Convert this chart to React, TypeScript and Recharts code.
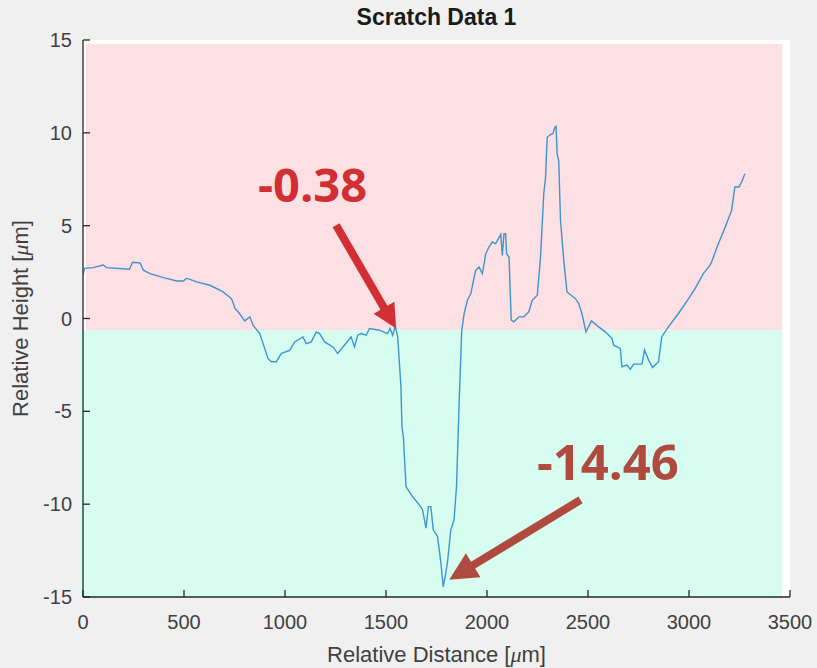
import React from "react"
import { LineChart, Line, XAxis, YAxis, CartesianGrid, ReferenceArea, ReferenceLine, ReferenceDot, Label } from "recharts"

// profile (distance in µm, height in µm)
const distance = [
  0, 8, 50, 100, 118, 230, 245, 283, 299, 332, 398, 464, 497, 513, 563, 628, 694, 735, 745, 752,
  768, 801, 826, 842, 875, 891, 916, 933, 957, 982, 1023, 1048, 1089, 1105, 1130, 1155, 1171, 1196, 1237, 1261,
  1294, 1327, 1344, 1360, 1377, 1402, 1418, 1467, 1508, 1520, 1533, 1546, 1558, 1574, 1579, 1586, 1599, 1631, 1665, 1681,
  1698, 1710, 1722, 1734, 1755, 1772, 1783, 1793, 1804, 1821, 1837, 1849, 1862, 1875, 1887, 1903, 1920, 1944, 1961, 1977,
  1994, 2010, 2026, 2043, 2068, 2076, 2084, 2092, 2097, 2109, 2120, 2133, 2158, 2183, 2207, 2224, 2249, 2265, 2281, 2290,
  2298, 2314, 2326, 2336, 2342, 2347, 2355, 2364, 2380, 2396, 2438, 2454, 2470, 2490, 2517, 2553, 2586, 2619, 2627, 2660,
  2668, 2693, 2709, 2726, 2767, 2780, 2800, 2820, 2849, 2865, 2898, 2948, 2998, 3030, 3071, 3104, 3112, 3145, 3166, 3186,
  3211, 3227, 3247, 3260, 3277,
]
const height = [
  2.35, 2.7, 2.74, 2.88, 2.74, 2.65, 3.03, 2.99, 2.6, 2.42, 2.2, 2.02, 2.02, 2.17, 1.97, 1.79, 1.43, 1.07, 0.8, 0.54,
  0.36, -0.13, 0.09, -0.36, -0.81, -1.34, -2.15, -2.33, -2.33, -1.88, -1.72, -1.26, -0.99, -1.35, -1.26, -0.72, -0.81, -1.26, -1.53, -1.88,
  -1.44, -0.99, -1.53, -0.9, -0.81, -0.9, -0.54, -0.63, -0.81, -0.54, -0.9, -0.41, -0.99, -3.68, -5.83, -6.37, -9.05, -9.59, -10.04, -10.31,
  -11.29, -10.13, -10.13, -11.38, -11.74, -13.17, -14.46, -13.9, -13.17, -11.38, -10.84, -9.05, -4.57, -0.63, 0.27, 0.98, 1.34, 2.6, 2.77, 2.42,
  3.49, 3.85, 4.12, 4.03, 4.53, 3.4, 4.57, 4.57, 3.49, 3.31, -0.09, -0.18, 0.09, 0.09, 0.36, 0.98, 1.25, 3.31, 6.72, 7.61,
  9.76, 9.91, 9.95, 10.3, 10.34, 8.87, 8.51, 5.28, 3.13, 1.43, 1.07, 0.81, 0.27, -0.72, -0.13, -0.45, -0.72, -1.08, -1.44, -1.61,
  -2.6, -2.51, -2.74, -2.46, -2.46, -1.7, -2.24, -2.64, -2.33, -0.99, -0.45, 0.27, 1.07, 1.61, 2.42, 2.87, 3.04, 4.03, 4.57, 5.11,
  5.82, 7.08, 7.08, 7.34, 7.8,
]

const xTicks = [0, 500, 1000, 1500, 2000, 2500, 3000, 3500]
const yTicks = [-15, -10, -5, 0, 5, 10, 15]
const threshold = -0.63

const data = distance.map((d, i) => ({ x: d, y: height[i] }))

const axisColor = "#262626"
const tickFont = { fill: "#404040", fontSize: 20, fontFamily: "Liberation Sans, Arial, sans-serif" }

// arrow drawn along a reference segment, tip at the second point
const arrow = (color: string, head: number, half: number, shaft: number) => (p: any) => {
  const dx = p.x2 - p.x1
  const dy = p.y2 - p.y1
  const len = Math.hypot(dx, dy)
  const ux = dx / len
  const uy = dy / len
  const bx = p.x2 - ux * head
  const by = p.y2 - uy * head
  return (
    <g>
      <line x1={p.x1} y1={p.y1} x2={bx + ux} y2={by + uy} stroke={color} strokeWidth={shaft} />
      <polygon
        points={`${p.x2},${p.y2} ${bx - uy * half},${by + ux * half} ${bx + uy * half},${by - ux * half}`}
        fill={color}
      />
    </g>
  )
}

const note = (text: string, color: string, size: number) => (p: any) => (
  <text x={p.cx} y={p.cy} fill={color} fontSize={size} fontWeight={700} fontFamily="Open Sans, sans-serif">
    {text}
  </text>
)

export default function App() {
  return (
    <div style={{ position: "absolute", left: 0, top: 0, width: 817, height: 668, background: "#f0f0f0" }}>
      <div
        style={{
          position: "absolute",
          left: 83,
          width: 707,
          top: 4,
          textAlign: "center",
          fontFamily: "Liberation Sans, Arial, sans-serif",
          fontWeight: 700,
          fontSize: 23,
          color: "#1a1a1a",
        }}
      >
        Scratch Data 1
      </div>
      <LineChart width={817} height={668} data={data} margin={{ top: 40, right: 27, bottom: 0, left: 0 }}>
        <CartesianGrid fill="#ffffff" horizontal={false} vertical={false} />
        <XAxis
          dataKey="x"
          type="number"
          domain={[0, 3500]}
          ticks={xTicks}
          allowDataOverflow
          height={71}
          tickSize={-7}
          tickMargin={25}
          tick={tickFont}
          axisLine={{ stroke: axisColor, strokeWidth: 1.3 }}
          tickLine={{ stroke: axisColor, strokeWidth: 1.3 }}
        >
          <Label
            content={(p: any) => (
              <text
                x={p.viewBox.x + p.viewBox.width / 2}
                y={p.viewBox.y + 65}
                textAnchor="middle"
                fill="#404040"
                fontSize={22}
                fontFamily="Liberation Sans, Arial, sans-serif"
              >
                Relative Distance [<tspan fontStyle="italic" fontFamily="Liberation Serif, serif">μ</tspan>m]
              </text>
            )}
          />
        </XAxis>
        <XAxis
          xAxisId="top"
          orientation="top"
          type="number"
          domain={[0, 3500]}
          ticks={xTicks}
          allowDataOverflow
          height={0}
          tickSize={-7}
          tick={false}
          axisLine={{ stroke: axisColor, strokeWidth: 1.3 }}
          tickLine={{ stroke: axisColor, strokeWidth: 1.3 }}
        />
        <YAxis
          type="number"
          domain={[-15, 15]}
          ticks={yTicks}
          allowDataOverflow
          width={83}
          tickSize={-7}
          tickMargin={18}
          tick={tickFont}
          axisLine={{ stroke: axisColor, strokeWidth: 1.3 }}
          tickLine={{ stroke: axisColor, strokeWidth: 1.3 }}
        >
          <Label
            content={(p: any) => {
              const cy = p.viewBox.y + p.viewBox.height / 2
              return (
                <text
                  x={28}
                  y={cy}
                  transform={`rotate(-90, 28, ${cy})`}
                  textAnchor="middle"
                  fill="#404040"
                  fontSize={22}
                  fontFamily="Liberation Sans, Arial, sans-serif"
                >
                  Relative Height [<tspan fontStyle="italic" fontFamily="Liberation Serif, serif">μ</tspan>m]
                </text>
              )
            }}
          />
        </YAxis>
        <YAxis
          yAxisId="right"
          orientation="right"
          type="number"
          domain={[-15, 15]}
          ticks={yTicks}
          allowDataOverflow
          width={0}
          tickSize={-7}
          tick={false}
          axisLine={{ stroke: axisColor, strokeWidth: 1.3 }}
          tickLine={{ stroke: axisColor, strokeWidth: 1.3 }}
        />
        <ReferenceArea x1={15} x2={3461} y1={threshold} y2={14.78} fill="#fde0e4" fillOpacity={1} stroke="none" ifOverflow="visible" />
        <ReferenceArea x1={-17} x2={3461} y1={-15} y2={threshold} fill="#d6fdf0" fillOpacity={1} stroke="none" ifOverflow="visible" />
        <Line
          type="linear"
          dataKey="y"
          stroke="#1f86c8"
          strokeWidth={1.4}
          strokeOpacity={0.85}
          dot={false}
          isAnimationActive={false}
        />
        <ReferenceLine
          segment={[{ x: 1253, y: 5.02 }, { x: 1550, y: -0.54 }]}
          shape={arrow("#d22f35", 24, 12, 8)}
        />
        <ReferenceLine
          segment={[{ x: 2463, y: -9.77 }, { x: 1813, y: -14.07 }]}
          shape={arrow("#b04a3f", 28, 14, 8)}
        />
        <ReferenceDot x={866} y={6.25} r={0} shape={note("-0.38", "#d22f35", 47)} />
        <ReferenceDot x={2247} y={-8.69} r={0} shape={note("-14.46", "#b04a3f", 49)} />
      </LineChart>
    </div>
  )
}
